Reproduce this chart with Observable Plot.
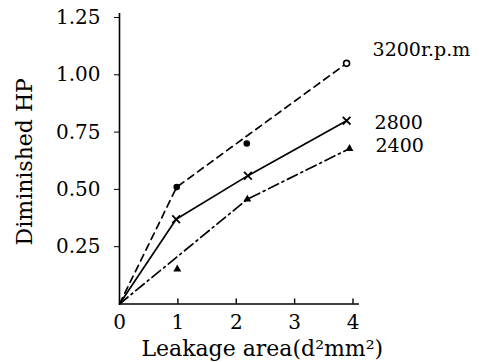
<!DOCTYPE html>
<html>
<head>
<meta charset="utf-8">
<script src="https://cdn.jsdelivr.net/npm/d3@7"></script>
<script src="https://cdn.jsdelivr.net/npm/@observablehq/plot@0.6"></script>
<style>
  html, body { margin: 0; padding: 0; background: #fff; }
  #chart svg { display: block; }
</style>
</head>
<body>
<div id="chart"></div>
<script>
// Diminished horsepower against leakage area, for three engine speeds.
const xTicks = [0, 1, 2, 3, 4];
const yTicks = [0.25, 0.5, 0.75, 1.0, 1.25];

// 3200 r.p.m (dashed)
const line3200X = [0, 0.98, 3.89];
const line3200Y = [0, 0.51, 1.05];
const pts3200X = [0.98, 2.18];
const pts3200Y = [0.51, 0.70];
const end3200X = [3.89];
const end3200Y = [1.05];

// 2800 r.p.m (solid)
const line2800X = [0, 0.97, 2.2, 3.89];
const line2800Y = [0, 0.37, 0.56, 0.80];

// 2400 r.p.m (dash-dot)
const line2400X = [0, 2.19, 3.94];
const line2400Y = [0, 0.457, 0.678];
const pts2400X = [0.99, 2.19, 3.94];
const pts2400Y = [0.152, 0.457, 0.678];

const seriesLabels = ["3200r.p.m", "2800", "2400"];

const toPts = (xs, ys) => xs.map((x, i) => ({x, y: ys[i]}));
const l3200 = toPts(line3200X, line3200Y);
const l2800 = toPts(line2800X, line2800Y);
const l2400 = toPts(line2400X, line2400Y);
const p3200 = toPts(pts3200X, pts3200Y);
const e3200 = toPts(end3200X, end3200Y);
const p2800 = l2800.slice(1);
const p2400 = toPts(pts2400X, pts2400Y);

const labelRows = [
  {...e3200[0], text: seriesLabels[0], dx: 26, dy: -13},
  {...l2800[l2800.length - 1], text: seriesLabels[1], dx: 28, dy: 2},
  {...l2400[l2400.length - 1], text: seriesLabels[2], dx: 26, dy: -3}
];

const font = "DejaVu Serif";
const sw = 1.7;

const chart = Plot.plot({
  width: 484,
  height: 362,
  marginLeft: 119,
  marginRight: 131.5,
  marginTop: 17,
  marginBottom: 58.5,
  style: {fontFamily: font, fontSize: "20px", color: "black", background: "white"},
  x: {domain: [0, 4]},
  y: {domain: [0, 1.25]},
  marks: [
    // axis lines
    Plot.ruleX([0], {y1: 0, y2: 1.267, stroke: "black", strokeWidth: 1.6}),
    Plot.ruleY([0], {x1: 0, x2: 4.11, stroke: "black", strokeWidth: 1.6}),
    // y ticks point outward, x ticks point up into the plot
    Plot.axisY({ticks: yTicks, tickFormat: d3.format(".2f"), tickSize: 5, tickPadding: 14, label: null, fontSize: 20}),
    Plot.ruleX(xTicks.slice(1), {x: d => d, y1: 0, y2: 0, insetBottom: 5, stroke: "black", strokeWidth: 1.4}),
    Plot.axisX({ticks: xTicks, tickFormat: d3.format("d"), tickSize: 0, tickPadding: 11, label: null, fontSize: 20}),

    // series lines
    Plot.line(l3200, {x: "x", y: "y", stroke: "black", strokeWidth: sw, strokeDasharray: "7,5"}),
    Plot.line(l2800, {x: "x", y: "y", stroke: "black", strokeWidth: sw}),
    Plot.line(l2400, {x: "x", y: "y", stroke: "black", strokeWidth: sw, strokeDasharray: "11,4,2,4"}),

    // markers
    Plot.dot(p3200, {x: "x", y: "y", r: 3.3, fill: "black"}),
    Plot.dot(e3200, {x: "x", y: "y", r: 3, fill: "white", stroke: "black", strokeWidth: 1.6}),
    Plot.dot(p2800, {x: "x", y: "y", symbol: "times", r: 3.6, stroke: "black", strokeWidth: 1.8}),
    Plot.dot(p2400, {x: "x", y: "y", symbol: "triangle2", r: 3.8, fill: "black"}),

    // series labels
    ...labelRows.map(d => Plot.text([d], {x: "x", y: "y", text: "text", textAnchor: "start", dx: d.dx, dy: d.dy, fontSize: 19, fontFamily: font, letterSpacing: 1.5})),

    // axis titles
    Plot.text(["Diminished HP"], {frameAnchor: "left", textAnchor: "middle", rotate: -90, dx: -95, dy: 1, fontSize: 22, fontFamily: font, letterSpacing: 3.5}),
    Plot.text(["Leakage area(d²mm²)"], {frameAnchor: "bottom", textAnchor: "middle", dx: 26, dy: 45, lineAnchor: "middle", fontSize: 22, fontFamily: font, letterSpacing: 4.5})
  ]
});

document.getElementById("chart").appendChild(chart);
</script>
</body>
</html>
